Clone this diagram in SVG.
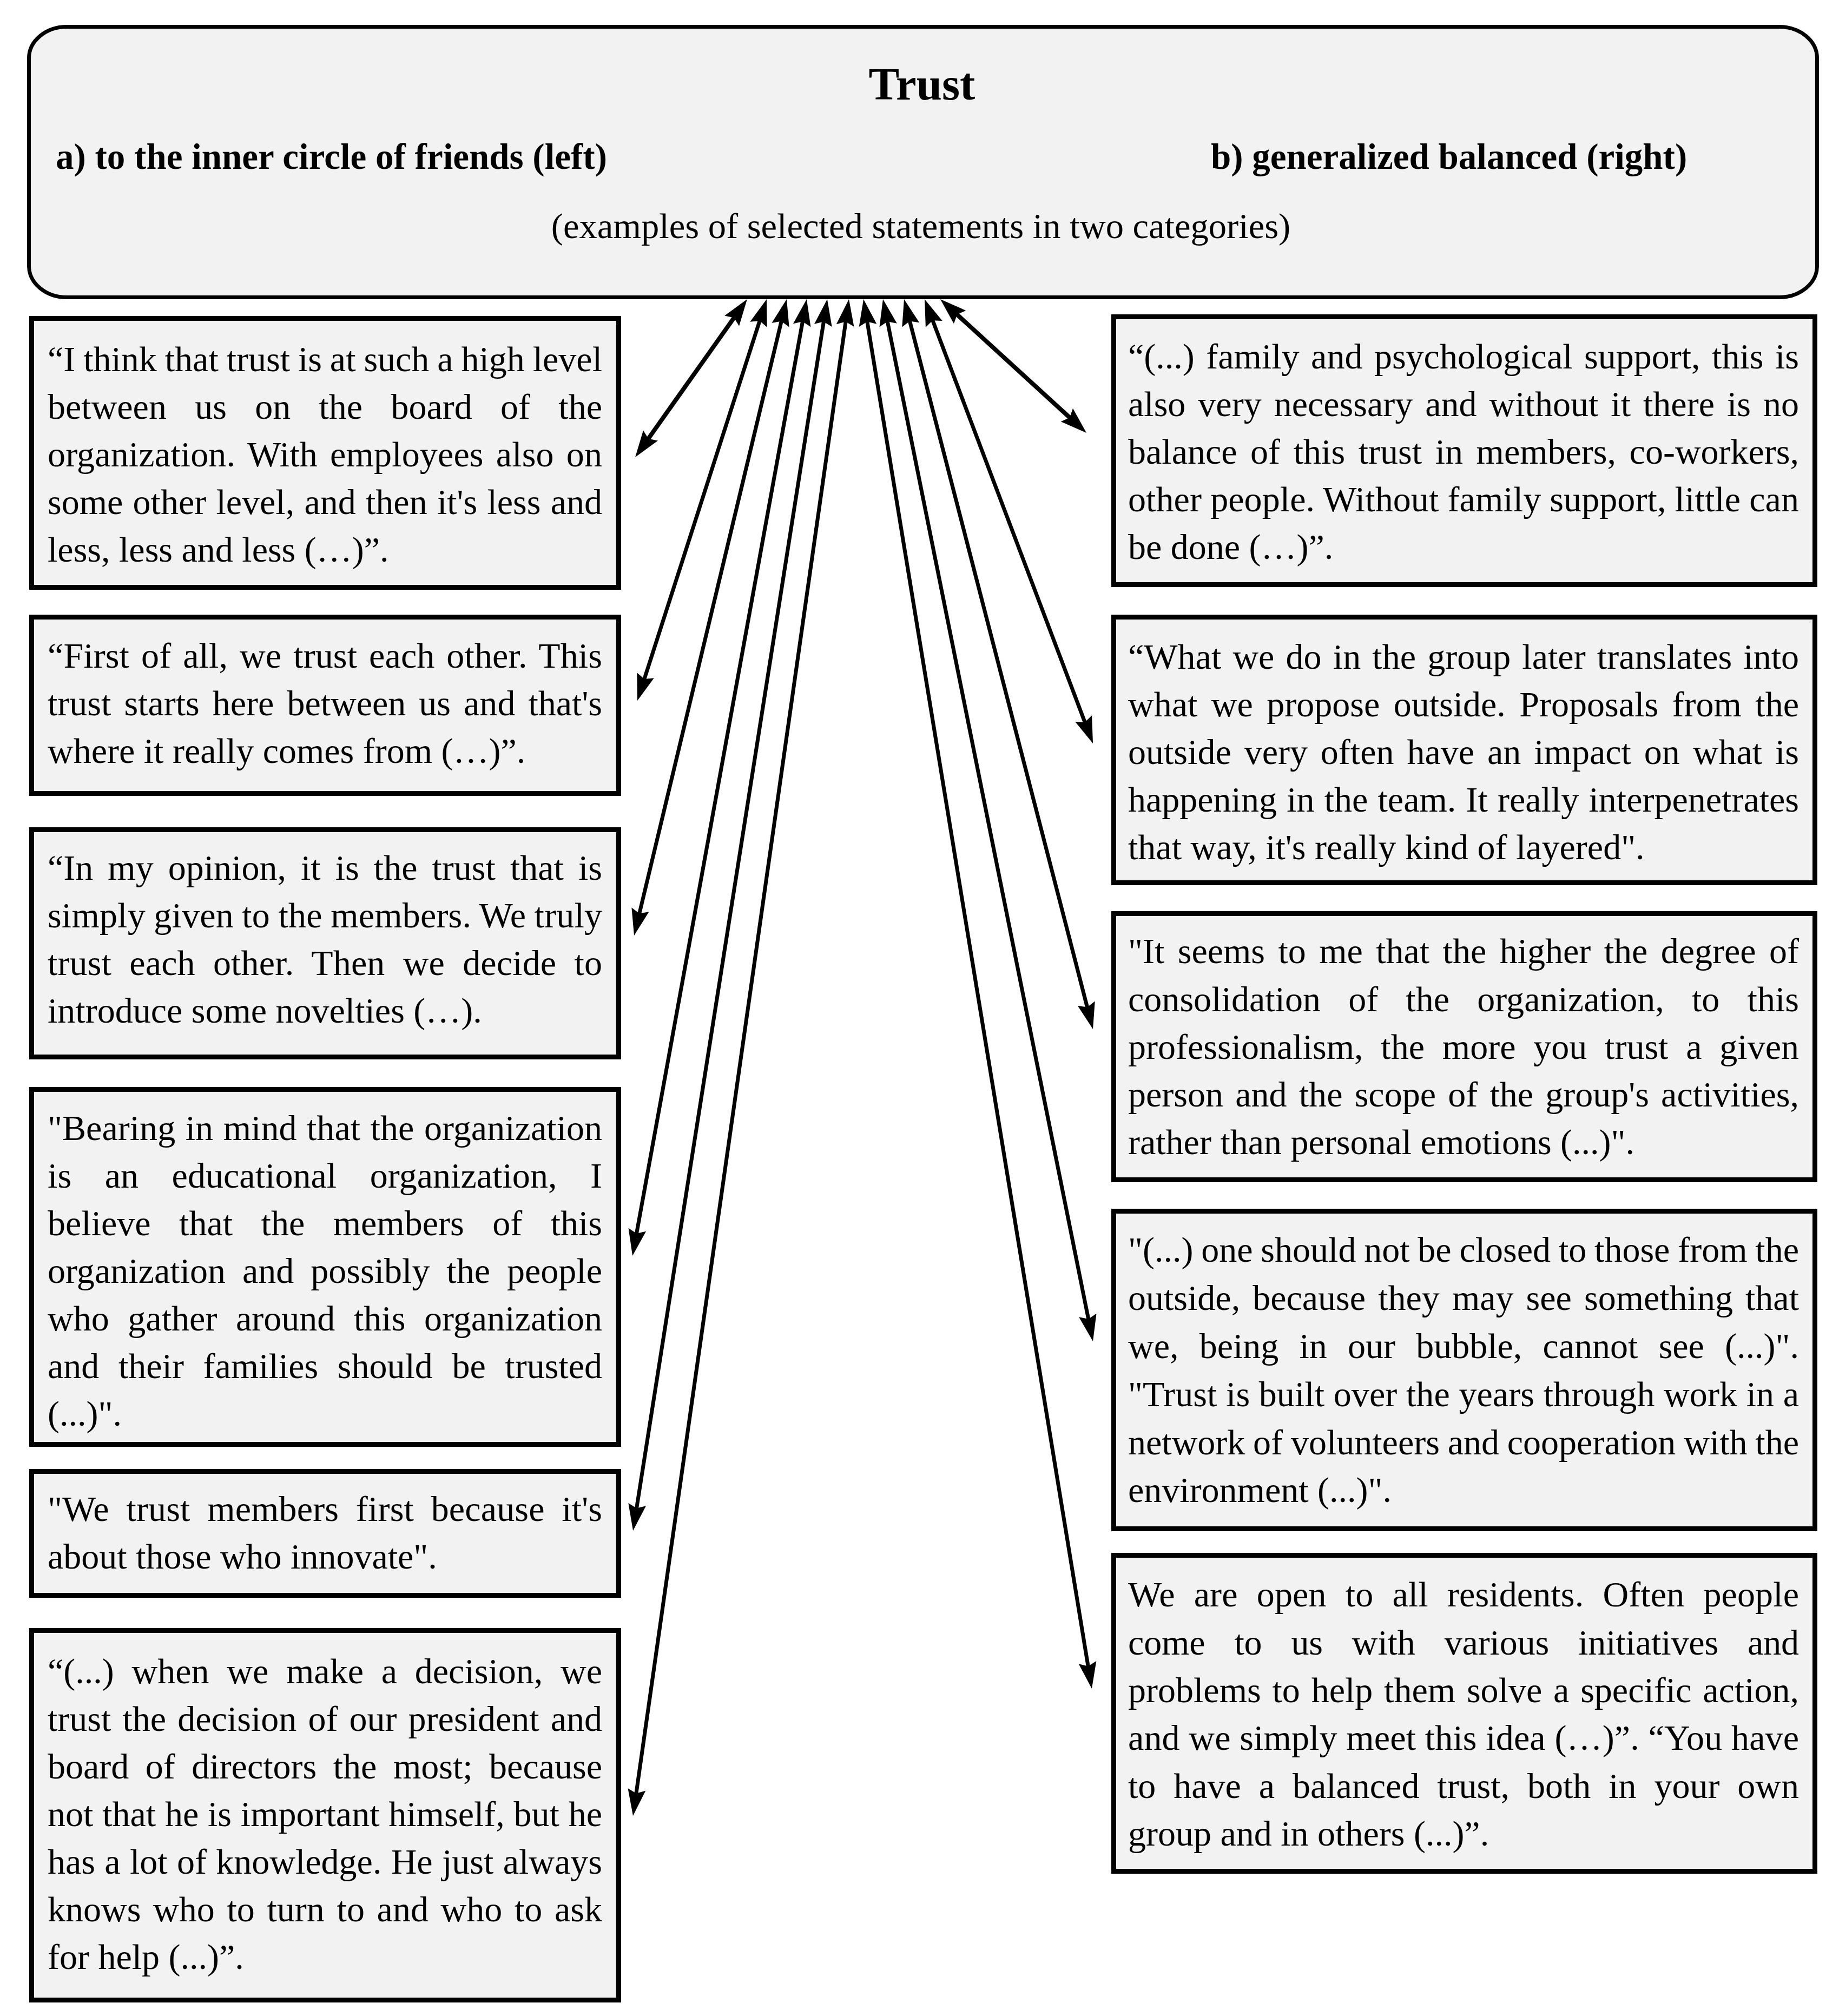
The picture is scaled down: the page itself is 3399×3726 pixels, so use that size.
<svg xmlns="http://www.w3.org/2000/svg" width="3399" height="3726" viewBox="0 0 3399 3726">
<style>
.bg{fill:#ffffff}
.hdr{fill:#f2f2f2;stroke:#000;stroke-width:7}
.box{fill:#f2f2f2;stroke:#000;stroke-width:9}
.t{font-family:"Liberation Serif","Times New Roman",serif;font-size:66px;fill:#000}
.e{font-family:"Liberation Serif","Times New Roman",serif;font-size:66.5px;fill:#000}
.h{font-family:"Liberation Serif","Times New Roman",serif;font-size:67px;font-weight:bold;fill:#000}
.ttl{font-family:"Liberation Serif","Times New Roman",serif;font-size:85px;font-weight:bold;fill:#000}
.c{fill:none;stroke:#000;stroke-width:7;marker-start:url(#ah);marker-end:url(#ah)}
.c2{stroke-width:8}
</style>
<defs>
<marker id="ah" markerUnits="userSpaceOnUse" viewBox="-22 -20 56 40" refX="0" refY="0" markerWidth="56" markerHeight="40" orient="auto-start-reverse">
<path d="M30,0 L-19,-16.5 L-12,0 L-19,16.5 Z" fill="#000"/>
</marker>
</defs>
<rect class="bg" x="0" y="0" width="3399" height="3726"/>

<g id="header">
<rect class="hdr" x="53.5" y="49.5" width="3305" height="500" rx="70" ry="58"/>
<text class="ttl" x="1704" y="184" text-anchor="middle">Trust</text>
<text class="h" x="103" y="312">a) to the inner circle of friends (left)</text>
<text class="h" x="2238" y="312">b) generalized balanced (right)</text>
<text class="e" x="1702" y="440" text-anchor="middle">(examples of selected statements in two categories)</text>
</g>

<g id="connectors">
<path class="c c2" d="M1363.6,577.5 L1191.4,820.5"/>
<path class="c" d="M1407.8,581.6 L1187.2,1266.4"/>
<path class="c" d="M1447,582.2 L1179,1699.8"/>
<path class="c" d="M1485.6,582.5 L1174.4,2291.5"/>
<path class="c" d="M1524.3,582.6 L1174.7,2799.4"/>
<path class="c" d="M1564.8,582.7 L1174.2,3326.3"/>
<path class="c" d="M1600.9,582.6 L2013.1,3091.4"/>
<path class="c" d="M1637.9,582.4 L2014.1,2449.6"/>
<path class="c" d="M1678.5,582 L2012.5,1873"/>
<path class="c" d="M1719.6,581.1 L2009.4,1345.9"/>
<path class="c c2" d="M1760.1,573.3 L1985.9,779.8"/>
</g>

<g id="left1">
<rect class="box" x="58.5" y="588.5" width="1085" height="497"/>
<text class="t" x="88" y="686" textLength="1025" lengthAdjust="spacing" style="word-spacing:-1.6px">“I think that trust is at such a high level</text>
<text class="t" x="88" y="774" textLength="1025" lengthAdjust="spacing" style="word-spacing:35.8px">between us on the board of the</text>
<text class="t" x="88" y="862" textLength="1025" lengthAdjust="spacing" style="word-spacing:6.5px">organization. With employees also on</text>
<text class="t" x="88" y="950" textLength="1025" lengthAdjust="spacing" style="word-spacing:1.8px">some other level, and then it's less and</text>
<text class="t" x="88" y="1038">less, less and less (…)”.</text>
</g>

<g id="left2">
<rect class="box" x="58.5" y="1140.5" width="1085" height="326"/>
<text class="t" x="88" y="1234" textLength="1025" lengthAdjust="spacing" style="word-spacing:5.3px">“First of all, we trust each other. This</text>
<text class="t" x="88" y="1322" textLength="1025" lengthAdjust="spacing" style="word-spacing:7.5px">trust starts here between us and that's</text>
<text class="t" x="88" y="1410">where it really comes from (…)”.</text>
</g>

<g id="left3">
<rect class="box" x="58.5" y="1533.5" width="1085" height="420"/>
<text class="t" x="88" y="1626" textLength="1025" lengthAdjust="spacing" style="word-spacing:10.6px">“In my opinion, it is the trust that is</text>
<text class="t" x="88" y="1714" textLength="1025" lengthAdjust="spacing" style="word-spacing:-1.2px">simply given to the members. We truly</text>
<text class="t" x="88" y="1802" textLength="1025" lengthAdjust="spacing" style="word-spacing:16.6px">trust each other. Then we decide to</text>
<text class="t" x="88" y="1890">introduce some novelties (…).</text>
</g>

<g id="left4">
<rect class="box" x="58.5" y="2013.5" width="1085" height="656"/>
<text class="t" x="88" y="2107" textLength="1025" lengthAdjust="spacing" style="word-spacing:2px">"Bearing in mind that the organization</text>
<text class="t" x="88" y="2195" textLength="1025" lengthAdjust="spacing" style="word-spacing:45px">is an educational organization, I</text>
<text class="t" x="88" y="2283" textLength="1025" lengthAdjust="spacing" style="word-spacing:36px">believe that the members of this</text>
<text class="t" x="88" y="2371" textLength="1025" lengthAdjust="spacing" style="word-spacing:14.3px">organization and possibly the people</text>
<text class="t" x="88" y="2459" textLength="1025" lengthAdjust="spacing" style="word-spacing:18px">who gather around this organization</text>
<text class="t" x="88" y="2547" textLength="1025" lengthAdjust="spacing" style="word-spacing:19.1px">and their families should be trusted</text>
<text class="t" x="88" y="2635">(...)".</text>
</g>

<g id="left5">
<rect class="box" x="58.5" y="2719.5" width="1085" height="229"/>
<text class="t" x="88" y="2811" textLength="1025" lengthAdjust="spacing" style="word-spacing:15px">"We trust members first because it's</text>
<text class="t" x="88" y="2899">about those who innovate".</text>
</g>

<g id="left6">
<rect class="box" x="58.5" y="3013.5" width="1085" height="683"/>
<text class="t" x="88" y="3111" textLength="1025" lengthAdjust="spacing" style="word-spacing:16.3px">“(...) when we make a decision, we</text>
<text class="t" x="88" y="3199" textLength="1025" lengthAdjust="spacing" style="word-spacing:4.6px">trust the decision of our president and</text>
<text class="t" x="88" y="3287" textLength="1025" lengthAdjust="spacing" style="word-spacing:14px">board of directors the most; because</text>
<text class="t" x="88" y="3375" textLength="1025" lengthAdjust="spacing" style="word-spacing:0.3px">not that he is important himself, but he</text>
<text class="t" x="88" y="3463" textLength="1025" lengthAdjust="spacing" style="word-spacing:0.8px">has a lot of knowledge. He just always</text>
<text class="t" x="88" y="3551" textLength="1025" lengthAdjust="spacing" style="word-spacing:6.2px">knows who to turn to and who to ask</text>
<text class="t" x="88" y="3639">for help (...)”.</text>
</g>

<g id="right1">
<rect class="box" x="2058.5" y="585.5" width="1296" height="495"/>
<text class="t" x="2085" y="681" textLength="1240" lengthAdjust="spacing" style="word-spacing:5px">“(...) family and psychological support, this is</text>
<text class="t" x="2085" y="769" textLength="1240" lengthAdjust="spacing" style="word-spacing:6.5px">also very necessary and without it there is no</text>
<text class="t" x="2085" y="857" textLength="1240" lengthAdjust="spacing" style="word-spacing:8.1px">balance of this trust in members, co-workers,</text>
<text class="t" x="2085" y="945" textLength="1240" lengthAdjust="spacing" style="word-spacing:-0.5px">other people. Without family support, little can</text>
<text class="t" x="2085" y="1033">be done (…)”.</text>
</g>

<g id="right2">
<rect class="box" x="2058.5" y="1140.5" width="1296" height="491"/>
<text class="t" x="2085" y="1236" textLength="1240" lengthAdjust="spacing" style="word-spacing:4.7px">“What we do in the group later translates into</text>
<text class="t" x="2085" y="1324" textLength="1240" lengthAdjust="spacing" style="word-spacing:9px">what we propose outside. Proposals from the</text>
<text class="t" x="2085" y="1412" textLength="1240" lengthAdjust="spacing" style="word-spacing:7.4px">outside very often have an impact on what is</text>
<text class="t" x="2085" y="1500" textLength="1240" lengthAdjust="spacing" style="word-spacing:1.7px">happening in the team. It really interpenetrates</text>
<text class="t" x="2085" y="1588">that way, it's really kind of layered".</text>
</g>

<g id="right3">
<rect class="box" x="2058.5" y="1688.5" width="1296" height="492"/>
<text class="t" x="2085" y="1780" textLength="1240" lengthAdjust="spacing" style="word-spacing:7.9px">"It seems to me that the higher the degree of</text>
<text class="t" x="2085" y="1869" textLength="1240" lengthAdjust="spacing" style="word-spacing:34.6px">consolidation of the organization, to this</text>
<text class="t" x="2085" y="1957" textLength="1240" lengthAdjust="spacing" style="word-spacing:16.3px">professionalism, the more you trust a given</text>
<text class="t" x="2085" y="2045" textLength="1240" lengthAdjust="spacing" style="word-spacing:5.7px">person and the scope of the group's activities,</text>
<text class="t" x="2085" y="2133">rather than personal emotions (...)".</text>
</g>

<g id="right4">
<rect class="box" x="2058.5" y="2238.5" width="1296" height="587"/>
<text class="t" x="2085" y="2332" textLength="1240" lengthAdjust="spacing" style="word-spacing:-1.7px">"(...) one should not be closed to those from the</text>
<text class="t" x="2085" y="2421" textLength="1240" lengthAdjust="spacing" style="word-spacing:6.6px">outside, because they may see something that</text>
<text class="t" x="2085" y="2510" textLength="1240" lengthAdjust="spacing" style="word-spacing:21.7px">we, being in our bubble, cannot see (...)".</text>
<text class="t" x="2085" y="2599" textLength="1240" lengthAdjust="spacing">"Trust is built over the years through work in a</text>
<text class="t" x="2085" y="2688" textLength="1240" lengthAdjust="spacing" style="word-spacing:-1.7px">network of volunteers and cooperation with the</text>
<text class="t" x="2085" y="2776">environment (...)".</text>
</g>

<g id="right5">
<rect class="box" x="2058.5" y="2874.5" width="1296" height="584"/>
<text class="t" x="2085" y="2969" textLength="1240" lengthAdjust="spacing" style="word-spacing:18.5px">We are open to all residents. Often people</text>
<text class="t" x="2085" y="3058" textLength="1240" lengthAdjust="spacing" style="word-spacing:37.6px">come to us with various initiatives and</text>
<text class="t" x="2085" y="3146" textLength="1240" lengthAdjust="spacing" style="word-spacing:4.3px">problems to help them solve a specific action,</text>
<text class="t" x="2085" y="3234" textLength="1240" lengthAdjust="spacing">and we simply meet this idea (…)”. “You have</text>
<text class="t" x="2085" y="3323" textLength="1240" lengthAdjust="spacing" style="word-spacing:16.4px">to have a balanced trust, both in your own</text>
<text class="t" x="2085" y="3411">group and in others (...)”.</text>
</g>
</svg>
